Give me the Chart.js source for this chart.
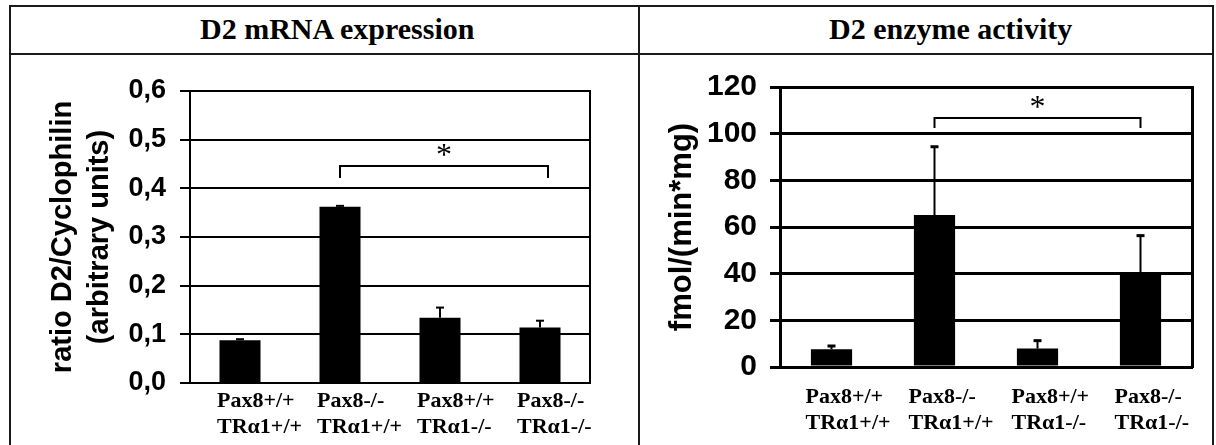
<!DOCTYPE html>
<html>
<head>
<meta charset="utf-8">
<script src="https://cdn.jsdelivr.net/npm/chart.js@4.4.1/dist/chart.umd.min.js"></script>
<style>
  html, body { margin: 0; padding: 0; background: #fff; overflow: hidden; width: 1216px; height: 445px; }
  .rule { position: absolute; background: #1a1a1a; }
  .head { position: absolute; top: 14px; font: bold 30px 'Liberation Serif', 'Times New Roman', serif; line-height: 30px; white-space: nowrap; color: #000; }
  canvas { position: absolute; }
</style>
</head>
<body>
<div class="rule" style="left:9px;top:5px;width:1205px;height:2px"></div>
<div class="rule" style="left:9px;top:53px;width:1205px;height:2px"></div>
<div class="rule" style="left:9px;top:5px;width:2px;height:440px"></div>
<div class="rule" style="left:638px;top:5px;width:2px;height:440px"></div>
<div class="rule" style="left:1212px;top:5px;width:2px;height:440px"></div>
<div class="head" style="left:200px">D2 mRNA expression</div>
<div class="head" style="left:829px">D2 enzyme activity</div>
<canvas id="mrna-chart" width="625" height="389" style="left:12px;top:56px"></canvas>
<canvas id="activity-chart" width="620" height="389" style="left:642px;top:56px"></canvas>
<script>
const categories = [
    ['Pax8+/+', 'TRα1+/+'],
    ['Pax8-/-', 'TRα1+/+'],
    ['Pax8+/+', 'TRα1-/-'],
    ['Pax8-/-', 'TRα1-/-']
];

const mrnaValues = [0.088, 0.362, 0.134, 0.114];
const mrnaErrors = [0.002, 0.002, 0.021, 0.014];
const mrnaTicks = ['0,0', '0,1', '0,2', '0,3', '0,4', '0,5', '0,6'];
const mrnaBracket = [1, 3.08, 0.446, 0.421];

const activityValues = [7.6, 65.1, 7.9, 40.2];
const activityErrors = [1.4, 29.3, 3.4, 16.1];
const activityTicks = ['0', '20', '40', '60', '80', '100', '120'];
const activityBracket = [1, 3, 106.7, 102.4];

// error bars drawn on top of the bars, from the y scale
const errorBars = {
    id: 'errorBars',
    afterDatasetsDraw(chart, args, opts) {
        const ctx = chart.ctx;
        const yScale = chart.scales.y;
        const values = chart.data.datasets[0].data;
        ctx.save();
        ctx.strokeStyle = '#000';
        chart.getDatasetMeta(0).data.forEach((bar, i) => {
            const top = yScale.getPixelForValue(values[i] + opts.errors[i]);
            ctx.lineWidth = opts.lineWidth;
            ctx.beginPath();
            ctx.moveTo(bar.x, bar.y);
            ctx.lineTo(bar.x, top);
            ctx.stroke();
            ctx.lineWidth = opts.capThickness;
            ctx.beginPath();
            ctx.moveTo(bar.x - opts.capWidth / 2, top);
            ctx.lineTo(bar.x + opts.capWidth / 2, top);
            ctx.stroke();
        });
        ctx.restore();
    }
};

const sigBracket = {
    id: 'sigBracket',
    afterDatasetsDraw(chart, args, opts) {
        const [from, to, level, legEnd] = opts.bracket;
        const ctx = chart.ctx;
        const x0 = chart.scales.x.getPixelForValue(from);
        const x1 = chart.scales.x.getPixelForValue(to);
        const yTop = chart.scales.y.getPixelForValue(level);
        const yLeg = chart.scales.y.getPixelForValue(legEnd);
        ctx.save();
        ctx.strokeStyle = '#000';
        ctx.lineWidth = 2;
        ctx.beginPath();
        ctx.moveTo(x0, yLeg);
        ctx.lineTo(x0, yTop);
        ctx.lineTo(x1, yTop);
        ctx.lineTo(x1, yLeg);
        ctx.stroke();
        ctx.fillStyle = '#000';
        ctx.font = "32px 'Liberation Serif', serif";
        ctx.textAlign = 'center';
        ctx.textBaseline = 'alphabetic';
        ctx.fillText('*', (x0 + x1) / 2, yTop - 1);
        ctx.restore();
    }
};

function makeChart(id, cfg) {
    const ctx = document.getElementById(id).getContext('2d');
    return new Chart(ctx, {
        type: 'bar',
        data: {
            labels: categories,
            datasets: [{
                data: cfg.values,
                backgroundColor: '#000',
                borderWidth: 0,
                barPercentage: cfg.barPct,
                categoryPercentage: 1
            }]
        },
        options: {
            responsive: false,
            animation: false,
            devicePixelRatio: 1,
            layout: { padding: cfg.padding },
            plugins: {
                legend: { display: false },
                tooltip: { enabled: false },
                errorBars: { errors: cfg.errors, lineWidth: 2, capThickness: cfg.capThickness, capWidth: 8 },
                sigBracket: { bracket: cfg.bracket }
            },
            scales: {
                x: {
                    grid: { display: false, drawTicks: false },
                    border: { display: true, color: '#000', width: cfg.lineWidth },
                    ticks: {
                        color: '#000',
                        font: { family: "'Liberation Serif', 'Times New Roman', serif", size: 22, weight: 'bold', lineHeight: 1.2 },
                        align: 'start',
                        labelOffset: cfg.labelOffset,
                        padding: cfg.labelPad,
                        maxRotation: 0,
                        autoSkip: false
                    },
                    afterFit: scale => { scale.height = cfg.xHeight; }
                },
                y: {
                    min: 0,
                    max: cfg.max,
                    ticks: {
                        stepSize: cfg.step,
                        color: '#000',
                        padding: cfg.tickPad,
                        font: cfg.tickFont,
                        callback: (value, index) => cfg.tickLabels[index]
                    },
                    grid: { color: '#000', lineWidth: cfg.lineWidth, tickLength: 10 },
                    border: { display: true, color: '#000', width: cfg.lineWidth },
                    title: {
                        display: true,
                        text: cfg.title,
                        color: '#000',
                        font: cfg.titleFont,
                        padding: { top: cfg.titlePad, bottom: 0 }
                    },
                    afterFit: scale => { scale.width = cfg.yWidth; }
                },
                yR: {
                    position: 'right',
                    display: true,
                    min: 0,
                    max: cfg.max,
                    grid: { display: false },
                    ticks: { display: false },
                    border: { display: true, color: '#000', width: cfg.lineWidth }
                }
            }
        },
        plugins: [errorBars, sigBracket]
    });
}

makeChart('mrna-chart', {
    values: mrnaValues,
    errors: mrnaErrors,
    bracket: mrnaBracket,
    tickLabels: mrnaTicks,
    max: 0.6,
    step: 0.1,
    barPct: 0.41,
    lineWidth: 2,
    capThickness: 2,
    padding: { top: 35, right: 39, bottom: 0, left: 0 },
    yWidth: 178,
    xHeight: 62,
    labelOffset: -23,
    labelPad: 5,
    tickPad: 14,
    tickFont: { family: "'Liberation Sans', Arial, sans-serif", size: 27, weight: 'bold' },
    title: ['ratio D2/Cyclophilin', '(arbitrary units)'],
    titleFont: { family: "'Liberation Sans', Arial, sans-serif", size: 29, weight: 'bold', lineHeight: 1.276 },
    titlePad: 32
});

makeChart('activity-chart', {
    values: activityValues,
    errors: activityErrors,
    bracket: activityBracket,
    tickLabels: activityTicks,
    max: 120,
    step: 20,
    barPct: 0.40,
    lineWidth: 3,
    capThickness: 3,
    padding: { top: 31, right: 62, bottom: 0, left: 0 },
    yWidth: 138,
    xHeight: 78,
    labelOffset: -26,
    labelPad: 17,
    tickPad: 13,
    tickFont: { family: "'Liberation Sans', Arial, sans-serif", size: 30, weight: 'bold' },
    title: 'fmol/(min*mg)',
    titleFont: { family: "'Liberation Sans', Arial, sans-serif", size: 31, weight: 'bold', lineHeight: 1.2 },
    titlePad: 22
});
</script>
</body>
</html>
